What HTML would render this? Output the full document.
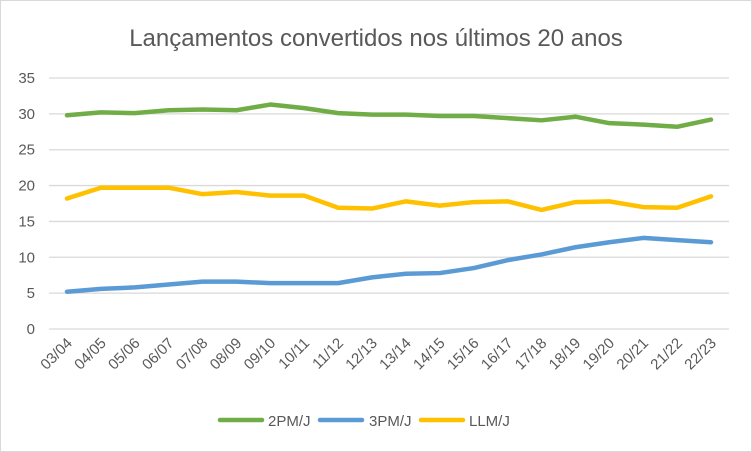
<!DOCTYPE html>
<html><head><meta charset="utf-8"><style>
body{margin:0;background:#fff}
svg{display:block;font-family:"Liberation Sans",sans-serif}
</style></head><body>
<svg id="c" width="752" height="452">
<rect x="0.5" y="0.5" width="751" height="451" fill="#fff" stroke="#d9d9d9"/>
<text x="376" y="46" text-anchor="middle" font-size="24" fill="#595959">Lançamentos convertidos nos últimos 20 anos</text>
<g id="grid"></g><g id="lines"></g><g id="labels"></g>
<g>
<line x1="220" y1="420" x2="262" y2="420" stroke="#70ad47" stroke-width="4.5" stroke-linecap="round"/>
<text x="268" y="426" font-size="15" fill="#595959">2PM/J</text>
<line x1="320" y1="420" x2="362" y2="420" stroke="#5b9bd5" stroke-width="4.5" stroke-linecap="round"/>
<text x="369" y="426" font-size="15" fill="#595959">3PM/J</text>
<line x1="421" y1="420" x2="463" y2="420" stroke="#ffc000" stroke-width="4.5" stroke-linecap="round"/>
<text x="469" y="426" font-size="15" fill="#595959">LLM/J</text>
</g>
</svg>
<script>
const categories=["03/04","04/05","05/06","06/07","07/08","08/09","09/10","10/11","11/12","12/13","13/14","14/15","15/16","16/17","17/18","18/19","19/20","20/21","21/22","22/23"];
const pm2=[29.8,30.2,30.1,30.5,30.6,30.5,31.3,30.8,30.1,29.9,29.9,29.7,29.7,29.4,29.1,29.6,28.7,28.5,28.2,29.2];
const pm3=[5.2,5.6,5.8,6.2,6.6,6.6,6.4,6.4,6.4,7.2,7.7,7.8,8.5,9.6,10.4,11.4,12.1,12.7,12.4,12.1];
const llm=[18.2,19.7,19.7,19.7,18.8,19.1,18.6,18.6,16.9,16.8,17.8,17.2,17.7,17.8,16.6,17.7,17.8,17.0,16.9,18.5];
const yTicks=[0,5,10,15,20,25,30,35];
const NS="http://www.w3.org/2000/svg";
const x=i=>67+i*(711-67)/(categories.length-1);
const y=v=>329-v*(329-78)/35;
function mk(t,a,p){const e=document.createElementNS(NS,t);for(const k in a)e.setAttribute(k,a[k]);p.appendChild(e);return e;}
const g=document.getElementById('grid'),L=document.getElementById('lines'),lb=document.getElementById('labels');
yTicks.forEach(v=>{
 const l=mk('line',{x1:49,x2:729,y1:y(v),y2:y(v),stroke:'#d9d9d9','stroke-width':1.3},g);
 
 
 const t=mk('text',{x:35,y:y(v)+5,'text-anchor':'end','font-size':15,fill:'#595959'},lb);
 t.textContent=v;
 
 
});
categories.forEach((c,i)=>{
 const t=mk('text',{transform:`translate(${x(i)+6},${344}) rotate(-45)`,'text-anchor':'end','font-size':15,fill:'#595959'},lb);
 t.textContent=c;
 
 
});
[[pm2,'#70ad47','series-2pm'],[pm3,'#5b9bd5','series-3pm'],[llm,'#ffc000','series-llm']].forEach(([d,col,n])=>{
 const p=mk('polyline',{points:d.map((v,i)=>x(i)+','+y(v)).join(' '),fill:'none',stroke:col,'stroke-width':4.5,'stroke-linecap':'round','stroke-linejoin':'round'},L);
 
 
});
</script>
</body></html>
